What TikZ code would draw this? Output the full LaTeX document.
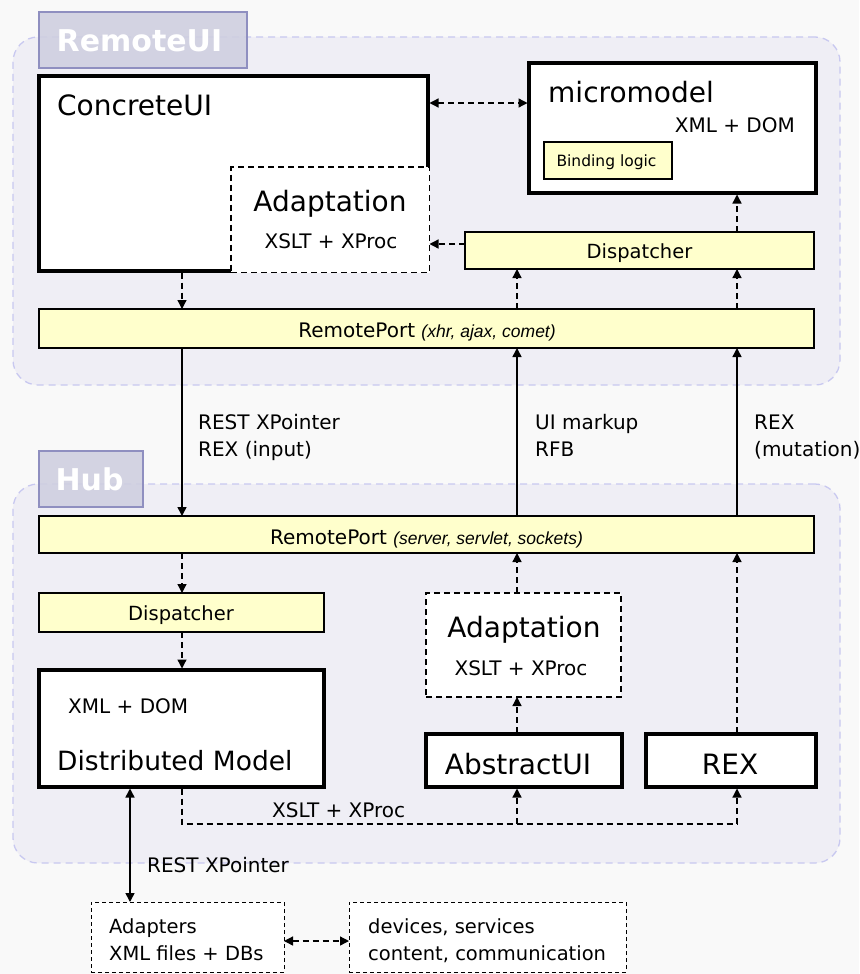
\documentclass[tikz,border=0pt]{standalone}
\usepackage{fontspec}
\setmainfont{DejaVu Sans}
\newfontfamily\arialf{Liberation Sans}
\usetikzlibrary{arrows.meta}
\definecolor{bg}{HTML}{F9F9F9}
\definecolor{contf}{HTML}{EFEEF5}
\definecolor{contb}{HTML}{C8C8F0}
\definecolor{lblf}{HTML}{CFCFE0}
\definecolor{lblb}{HTML}{8F8FC0}
\definecolor{yel}{HTML}{FFFFCC}
\newcommand\bx[6]{\node[#2, anchor=north west, minimum width={(#5-#3)*1pt}, minimum height={(#6-#4)*1pt}, inner sep=0pt, outer sep=0pt] (#1) at (#3,#4) {};}
\newcommand\fbig{\fontsize{28}{30}\selectfont}
\newcommand\fdm{\fontsize{26.5}{30}\selectfont}
\newcommand\fmed{\fontsize{20}{24}\selectfont}
\newcommand\fsm{\fontsize{19.5}{24}\selectfont}
\newcommand\fdisp{\fontsize{19.5}{24}\selectfont}
\newcommand\flab{\fontsize{30}{32}\selectfont\bfseries}
\newcommand\fitl{\arialf\itshape\fontsize{17.5}{20}\selectfont}
\tikzset{
  cont/.style={draw=contb, fill=contf, dash pattern=on 7pt off 5pt, rounded corners=25pt, line width=1.3pt},
  lbl/.style={draw=lblb, fill=lblf, fill opacity=0.9, line width=1.3pt},
  thickbox/.style={draw, fill=white, line width=3.5pt},
  ybox/.style={draw, fill=yel, line width=1.5pt},
  dbox/.style={draw, fill=white, dash pattern=on 6pt off 4pt, line width=1.5pt},
  thinbox/.style={draw, fill=white, dash pattern=on 4pt off 3pt, line width=1pt},
  darr/.style={->, dash pattern=on 6pt off 4pt, line width=1.3pt},
  dline/.style={dash pattern=on 6pt off 4pt, line width=1.3pt},
  sarr/.style={->, line width=1.5pt},
  txt/.style={inner sep=0pt, anchor=base west},
  ctxt/.style={inner sep=0pt, anchor=base},
  >={Triangle[length=9pt,width=9pt]}
}
\begin{document}
\begin{tikzpicture}[x=1pt,y=-1pt]
\useasboundingbox (0,0) rectangle (859,974);
\fill[bg] (0,0) rectangle (859,974);
% containers
\bx{rui}{cont}{13}{37}{840}{385}
\bx{ruil}{lbl}{39}{12}{247}{68}
\node[ctxt, text=white] (truil) at (139.5,52) {\flab RemoteUI};
\bx{hub}{cont}{13}{484}{840}{863}
\bx{hubl}{lbl}{39}{451}{143}{507}
\node[ctxt, text=white] (thubl) at (89.5,490) {\flab Hub};
% RemoteUI boxes
\bx{cui}{thickbox}{39}{76}{428}{271}
\bx{ad1}{dbox}{231}{167}{429.5}{272.5}
\bx{mm}{thickbox}{529}{63}{816}{193}
\bx{bind}{ybox}{544}{142}{672}{179}
\bx{disp1}{ybox}{465}{232}{814}{269}
\bx{rp1}{ybox}{39}{309}{814}{348}
% Hub boxes
\bx{rp2}{ybox}{39}{516}{814}{553}
\bx{disp2}{ybox}{39}{593}{324}{632}
\bx{dm}{thickbox}{39}{670}{324}{787}
\bx{ad2}{dbox}{426}{593}{621}{697}
\bx{aui}{thickbox}{426}{734}{622}{787}
\bx{rex}{thickbox}{646}{734}{816}{787}
% bottom boxes
\bx{adp}{thinbox}{91}{902}{284}{972}
\bx{dev}{thinbox}{349}{902}{626}{972}
% texts
\node[txt] (tcui) at (57,115) {\fbig ConcreteUI};
\node[ctxt] (tad1) at (330,211) {\fbig Adaptation};
\node[ctxt] (tad1b) at (331,248) {\fmed XSLT + XProc};
\node[txt] (tmm) at (548,102) {\fbig micromodel};
\node[inner sep=0pt, anchor=base east] (tmmb) at (795,132) {\fmed XML + DOM};
\node[ctxt] (tbind) at (606.5,166) {\fontsize{15.5}{18}\selectfont Binding logic};
\node[ctxt] (tdisp1) at (639.5,258) {\fdisp Dispatcher};
\node[ctxt] (trp1) at (427,337) {\fmed RemotePort {\fitl (xhr, ajax, comet)}};
\node[txt] (l1a) at (198,429) {\fmed REST XPointer};
\node[txt] (l1b) at (198,456) {\fmed REX (input)};
\node[txt] (l2a) at (535,429) {\fmed UI markup};
\node[txt] (l2b) at (535,456) {\fmed RFB};
\node[txt] (l3a) at (754,429) {\fmed REX};
\node[txt] (l3b) at (754,456) {\fmed (mutation)};
\node[ctxt] (trp2) at (426.5,544) {\fmed RemotePort {\fitl (server, servlet, sockets)}};
\node[ctxt] (tdisp2) at (181,620) {\fdisp Dispatcher};
\node[txt] (tdmb) at (68,713) {\fmed XML + DOM};
\node[txt] (tdm) at (57,770) {\fdm Distributed Model};
\node[ctxt] (tad2) at (524,637) {\fbig Adaptation};
\node[ctxt] (tad2b) at (521,675) {\fmed XSLT + XProc};
\node[ctxt] (taui) at (518,774) {\fbig AbstractUI};
\node[ctxt] (trex) at (730,774) {\fbig REX};
\node[txt] (lx) at (272,817) {\fmed XSLT + XProc};
\node[txt] (lr) at (147,872) {\fmed REST XPointer};
\node[txt] (tadp) at (109,933) {\fsm Adapters};
\node[txt] (tadpb) at (109,960) {\fsm XML files + DBs};
\node[txt] (tdev) at (368,933) {\fsm devices, services};
\node[txt] (tdevb) at (368,960) {\fsm content, communication};
% helper coordinates
\coordinate (xa) at (182,0);
\coordinate (xb) at (517,0);
\coordinate (xc) at (737,0);
\coordinate (xd) at (130,0);
\coordinate (ya) at (0,103);
\coordinate (yb) at (0,244);
\coordinate (yc) at (0,941);
\coordinate (ybend) at (0,824);
% connectors
\draw[darr, <->, shorten <=1.5pt, shorten >=1.5pt] (cui.east |- ya) -- (mm.west |- ya);
\draw[darr] (disp1.west |- yb) -- (ad1.east |- yb);
\draw[darr, shorten >=1.5pt] (disp1.north -| xc) -- (mm.south -| xc);
\draw[darr] (cui.south -| xa) ++(0,1.5) -- (rp1.north -| xa);
\draw[darr] (rp1.north -| xb) -- (disp1.south -| xb);
\draw[darr] (rp1.north -| xc) -- (disp1.south -| xc);
\draw[sarr] (rp1.south -| xa) -- (rp2.north -| xa);
\draw[sarr] (rp2.north -| xb) -- (rp1.south -| xb);
\draw[sarr] (rp2.north -| xc) -- (rp1.south -| xc);
\draw[darr] (rp2.south -| xa) -- (disp2.north -| xa);
\draw[darr, shorten >=1.5pt] (disp2.south -| xa) -- (dm.north -| xa);
\draw[darr] (ad2.north -| xb) -- (rp2.south -| xb);
\draw[darr, shorten <=1.5pt] (rex.north -| xc) -- (rp2.south -| xc);
\draw[darr, shorten <=1.5pt] (aui.north -| xb) -- (ad2.south -| xb);
\coordinate (bA) at (xa |- ybend);
\coordinate (bB) at (xb |- ybend);
\coordinate (bC) at (xc |- ybend);
\draw[dline] (dm.south -| xa) ++(0,1.5) -- (bA) -- (bC);
\draw[darr, shorten >=1.5pt] (bC) -- (rex.south -| xc);
\draw[darr, shorten >=1.5pt] (bB) -- (aui.south -| xb);
\draw[sarr, <->, shorten <=1.5pt] (dm.south -| xd) -- (adp.north -| xd);
\draw[darr, <->] (adp.east |- yc) -- (dev.west |- yc);
\end{tikzpicture}
\end{document}
